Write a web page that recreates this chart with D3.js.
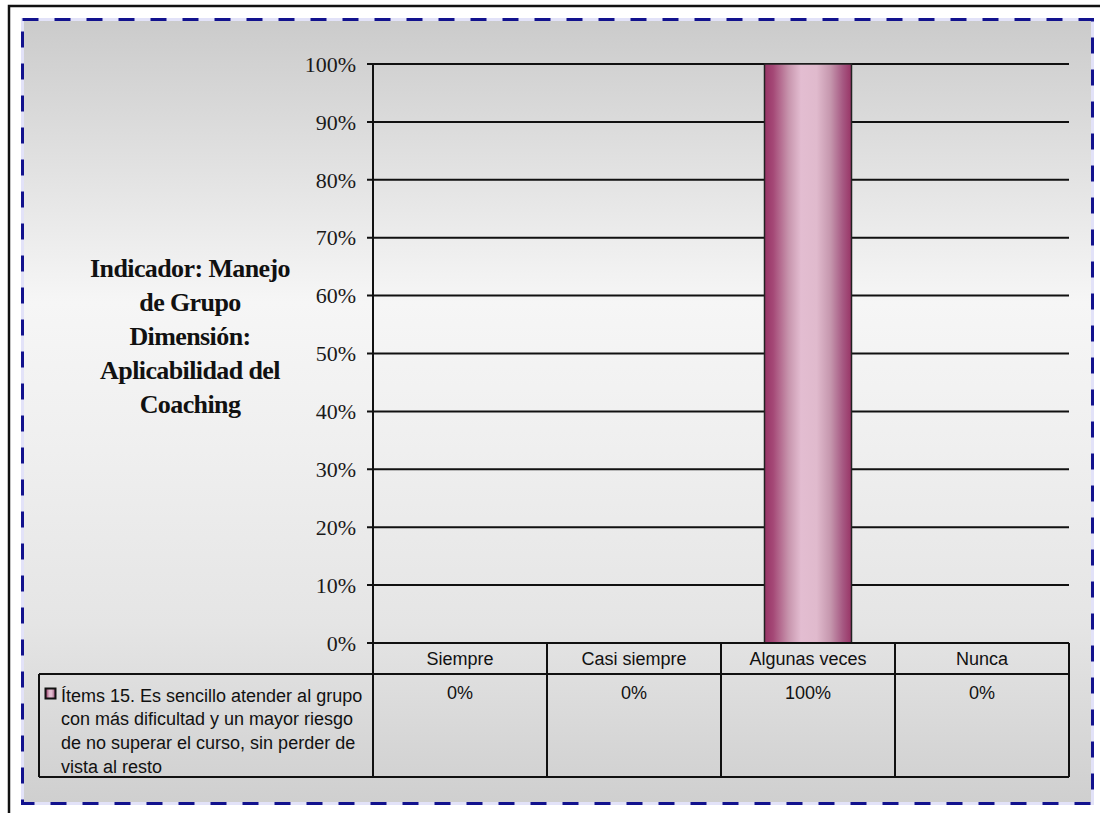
<!DOCTYPE html>
<html>
<head>
<meta charset="utf-8">
<script src="https://cdn.jsdelivr.net/npm/d3@7"></script>
<style>
html,body{margin:0;padding:0;background:#fff;}
svg{display:block;}
</style>
</head>
<body>
<svg id="chart" width="1100" height="813"></svg>
<script>
// ---- data ----
const categories = ["Siempre", "Casi siempre", "Algunas veces", "Nunca"];
const values = [0, 0, 100, 0];
const valueLabels = ["0%", "0%", "100%", "0%"];
const seriesName = "Ítems 15. Es sencillo atender al grupo con más dificultad y un mayor riesgo de no superar el curso, sin perder de vista al resto";
const seriesLines = ["Ítems 15. Es sencillo atender al grupo", "con más dificultad y un mayor riesgo", "de no superar el curso, sin perder de", "vista al resto"];
const yTicks = [0, 10, 20, 30, 40, 50, 60, 70, 80, 90, 100];
const titleLines = ["Indicador: Manejo", "de Grupo", "Dimensión:", "Aplicabilidad del", "Coaching"];

const svg = d3.select("#chart");
const defs = svg.append("defs");

// background gradient
const bg = defs.append("linearGradient").attr("id","bgGrad").attr("x1",0).attr("y1",0).attr("x2",0).attr("y2",1);
[[0,"#cbcbcb"],[0.36,"#f6f6f6"],[0.55,"#efefef"],[0.77,"#e5e5e5"],[1,"#cfcfcf"]].forEach(s=>bg.append("stop").attr("offset",s[0]).attr("stop-color",s[1]));

// bar gradient (horizontal)
const bgBar = defs.append("linearGradient").attr("id","barGrad").attr("x1",0).attr("y1",0).attr("x2",1).attr("y2",0);
[[0,"#983466"],[0.1,"#a44876"],[0.28,"#c896ae"],[0.42,"#e3bdd1"],[0.6,"#e0bacd"],[0.76,"#c596ad"],[0.9,"#a65882"],[1,"#983466"]].forEach(s=>bgBar.append("stop").attr("offset",s[0]).attr("stop-color",s[1]));

// outer black frame
svg.append("rect").attr("x",9).attr("y",6).attr("width",1300).attr("height",1300)
  .attr("fill","#fff").attr("stroke","#111").attr("stroke-width",2.5);

// chart area
svg.append("rect").attr("x",22.5).attr("y",19.5).attr("width",1070).attr("height",784)
  .attr("fill","url(#bgGrad)").attr("stroke","#e2e2f8").attr("stroke-width",3);
svg.append("rect").attr("x",22.5).attr("y",19.5).attr("width",1070).attr("height",784)
  .attr("fill","none").attr("stroke","#12128e").attr("stroke-width",3).attr("stroke-dasharray","16,16");

// plot geometry
const plotLeft = 373, plotRight = 1069, plotTop = 64, plotBottom = 643;
const headerBottom = 674, tableBottom = 777, legendLeft = 39;

const x = d3.scaleBand().domain(categories).range([plotLeft, plotRight]).paddingInner(0).paddingOuter(0);
const y = d3.scaleLinear().domain([0, 100]).range([plotBottom, plotTop]);

// gridlines
const g = svg.append("g");
g.selectAll("line.grid").data(yTicks).join("line")
  .attr("x1", plotLeft - 6).attr("x2", plotRight)
  .attr("y1", d => y(d)).attr("y2", d => y(d))
  .attr("stroke", "#111").attr("stroke-width", 2);

// y axis labels
g.selectAll("text.ytick").data(yTicks).join("text")
  .attr("x", 356).attr("y", d => y(d)).attr("dy", "0.35em")
  .attr("text-anchor", "end")
  .attr("font-family", "'Liberation Serif','Times New Roman',serif")
  .attr("font-size", 22).attr("fill", "#1a1a1a")
  .text(d => d3.format("d")(d) + "%");

// bars
g.selectAll("rect.bar").data(categories.map((c,i)=>({c, v: values[i]}))).join("rect")
  .attr("x", d => x(d.c) + x.bandwidth()/4)
  .attr("width", x.bandwidth()/2)
  .attr("y", d => y(d.v))
  .attr("height", d => y(0) - y(d.v))
  .attr("fill", "url(#barGrad)")
  .attr("stroke", "#222").attr("stroke-width", 1.5)
  .attr("display", d => d.v > 0 ? null : "none");

// y axis line (extends through table)
g.append("line").attr("x1", plotLeft).attr("x2", plotLeft).attr("y1", plotTop).attr("y2", tableBottom)
  .attr("stroke", "#111").attr("stroke-width", 2);

// data table
const tbl = svg.append("g").attr("stroke", "#111").attr("stroke-width", 2).attr("fill", "none");
tbl.append("line").attr("x1", plotLeft).attr("x2", plotRight).attr("y1", plotBottom).attr("y2", plotBottom);
tbl.append("line").attr("x1", legendLeft).attr("x2", plotRight).attr("y1", headerBottom).attr("y2", headerBottom);
tbl.append("line").attr("x1", legendLeft).attr("x2", plotRight).attr("y1", tableBottom).attr("y2", tableBottom);
tbl.append("line").attr("x1", legendLeft).attr("x2", legendLeft).attr("y1", headerBottom).attr("y2", tableBottom);
tbl.selectAll("line.sep").data(categories).join("line")
  .attr("x1", d => x(d) + x.bandwidth()).attr("x2", d => x(d) + x.bandwidth())
  .attr("y1", plotBottom).attr("y2", tableBottom);

const sans = "'Liberation Sans',Arial,sans-serif";
svg.selectAll("text.cat").data(categories).join("text")
  .attr("x", d => x(d) + x.bandwidth()/2).attr("y", 665)
  .attr("text-anchor", "middle").attr("font-family", sans).attr("font-size", 18).attr("fill", "#111")
  .text(d => d);
svg.selectAll("text.val").data(categories.map((c,i)=>({c, t: valueLabels[i]}))).join("text")
  .attr("x", d => x(d.c) + x.bandwidth()/2).attr("y", 699)
  .attr("text-anchor", "middle").attr("font-family", sans).attr("font-size", 18).attr("fill", "#111")
  .text(d => d.t);

// legend key
svg.append("rect").attr("x", 45.5).attr("y", 688.5).attr("width", 10).attr("height", 10)
  .attr("fill", "url(#barGrad)").attr("stroke", "#111").attr("stroke-width", 2);
svg.append("text").attr("font-family", sans).attr("font-size", 18).attr("fill", "#111")
  .selectAll("tspan").data(seriesLines).join("tspan")
  .attr("x", 61).attr("y", (d,i) => 701.5 + i*23.7)
  .text(d => d);

// title
svg.append("text").attr("text-anchor", "middle")
  .attr("font-family", "'Liberation Serif','Times New Roman',serif")
  .attr("font-weight", "bold").attr("font-size", 26).attr("fill", "#111")
  .attr("letter-spacing", -0.6)
  .selectAll("tspan").data(titleLines).join("tspan")
  .attr("x", 190).attr("y", (d,i) => 277 + i*34)
  .text(d => d);
</script>
</body>
</html>
